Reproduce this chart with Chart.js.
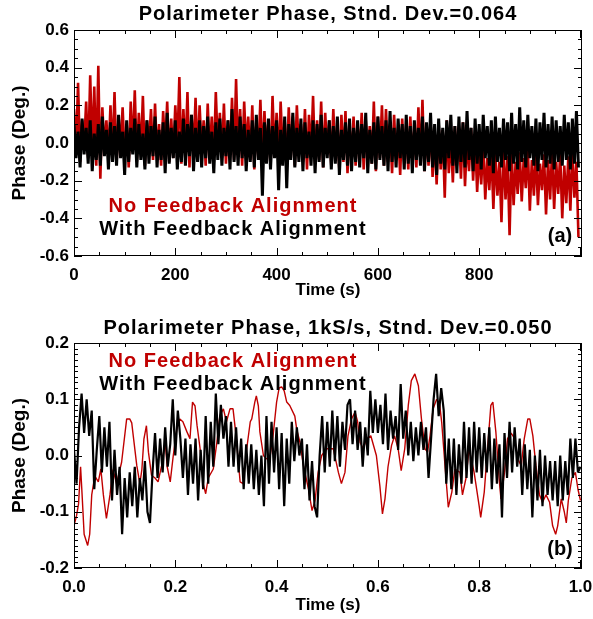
<!DOCTYPE html>
<html>
<head>
<meta charset="utf-8">
<script src="https://cdn.jsdelivr.net/npm/chart.js@4.4.1/dist/chart.umd.min.js"></script>
<style>
  body { margin: 0; background: #fff; }
  canvas { position: absolute; left: 0; }
  #chartA { top: 0; }
  #chartB { top: 310px; }
</style>
</head>
<body>
<canvas id="chartA" width="593" height="310"></canvas>
<canvas id="chartB" width="593" height="309"></canvas>
<script>
// ---- panel (a): 0-1000 s, read as alternating upper / lower excursions every 4 s
// No feedback (red): upper excursions at t = 0, 8, 16 ... 992
const redHighA = [
  0.18, 0.32, 0.12, 0.22, 0.36, 0.30, 0.41, 0.19, 0.12, 0.20,
  0.27, 0.14, 0.19, 0.10, 0.22, 0.28, 0.16, 0.25, 0.12, 0.18,
  0.21, 0.10, 0.17, 0.22, 0.13, 0.20, 0.35, 0.18, 0.27, 0.15,
  0.24, 0.20, 0.12, 0.21, 0.14, 0.27, 0.16, 0.21, 0.12, 0.24,
  0.34, 0.18, 0.22, 0.14, 0.20, 0.12, 0.23, 0.17, 0.12, 0.25,
  0.16, 0.22, 0.12, 0.19, 0.14, 0.20, 0.10, 0.18, 0.15, 0.25,
  0.12, 0.22, 0.16, 0.12, 0.18, 0.10, 0.15, 0.17, 0.08, 0.14,
  0.10, 0.16, 0.12, 0.09, 0.22, 0.14, 0.20, 0.18, 0.10, 0.15,
  0.08, 0.13, 0.10, 0.14, 0.07, 0.19, 0.23, 0.08, 0.12, 0.05,
  0.10, 0.07, 0.12, 0.04, 0.09, 0.06, 0.11, 0.03, 0.08, 0.02,
  -0.04, 0.00, -0.08, -0.03, -0.06, -0.10, -0.02, -0.07, -0.04, -0.10,
  -0.05, -0.08, -0.02, -0.09, -0.05, -0.11, -0.06, -0.09, -0.04, -0.10,
  -0.06, -0.12, -0.07, -0.05, -0.10
];
// lower excursions at t = 4, 12, 20 ... 996
const redLowA = [
  -0.05, -0.10, -0.02, -0.08, -0.06, -0.12, -0.19, -0.04, -0.09, -0.07,
  -0.11, -0.03, -0.08, -0.13, -0.05, -0.10, -0.06, -0.12, -0.02, -0.09,
  -0.07, -0.12, -0.04, -0.10, -0.08, -0.03, -0.11, -0.06, -0.13, -0.05,
  -0.09, -0.04, -0.12, -0.07, -0.10, -0.03, -0.08, -0.11, -0.05, -0.09,
  -0.06, -0.12, -0.04, -0.09, -0.14, -0.07, -0.10, -0.05, -0.13, -0.08,
  -0.11, -0.06, -0.13, -0.08, -0.12, -0.05, -0.10, -0.14, -0.07, -0.11,
  -0.09, -0.13, -0.06, -0.12, -0.08, -0.15, -0.10, -0.16, -0.07, -0.12,
  -0.09, -0.14, -0.06, -0.11, -0.15, -0.08, -0.12, -0.10, -0.16, -0.09,
  -0.17, -0.11, -0.14, -0.08, -0.13, -0.10, -0.15, -0.12, -0.18, -0.22,
  -0.14, -0.29, -0.16, -0.21, -0.12, -0.19, -0.23, -0.15, -0.20, -0.26,
  -0.22, -0.30, -0.25, -0.35, -0.28, -0.42, -0.30, -0.49, -0.33, -0.27,
  -0.31, -0.24, -0.36, -0.28, -0.33, -0.25, -0.38, -0.30, -0.35, -0.27,
  -0.40, -0.32, -0.36, -0.29, -0.50
];
// With feedback (black)
const blackHighA = [
  0.10, 0.06, 0.13, 0.08, 0.12, 0.05, 0.10, 0.14, 0.07, 0.11,
  0.09, 0.15, 0.06, 0.12, 0.08, 0.13, 0.10, 0.05, 0.12, 0.09,
  0.14, 0.07, 0.11, 0.16, 0.08, 0.12, 0.06, 0.13, 0.10, 0.15,
  0.08, 0.12, 0.09, 0.14, 0.06, 0.11, 0.13, 0.08, 0.12, 0.18,
  0.09, 0.14, 0.10, 0.07, 0.12, 0.15, 0.08, 0.11, 0.13, 0.09,
  0.12, 0.07, 0.14, 0.10, 0.16, 0.08, 0.13, 0.11, 0.06, 0.12,
  0.10, 0.15, 0.08, 0.12, 0.09, 0.14, 0.07, 0.11, 0.13, 0.08,
  0.12, 0.10, 0.16, 0.07, 0.11, 0.14, 0.09, 0.12, 0.17, 0.08,
  0.13, 0.10, 0.15, 0.09, 0.12, 0.08, 0.14, 0.11, 0.16, 0.10,
  0.13, 0.08, 0.12, 0.15, 0.09, 0.14, 0.11, 0.17, 0.08, 0.13,
  0.10, 0.15, 0.09, 0.12, 0.14, 0.08, 0.13, 0.11, 0.16, 0.10,
  0.19, 0.12, 0.15, 0.09, 0.13, 0.11, 0.16, 0.10, 0.14, 0.12,
  0.09, 0.15, 0.11, 0.13, 0.17
];
const blackLowA = [
  -0.08, -0.13, -0.06, -0.11, -0.15, -0.09, -0.12, -0.07, -0.14, -0.10,
  -0.12, -0.08, -0.17, -0.10, -0.06, -0.13, -0.09, -0.14, -0.11, -0.07,
  -0.13, -0.09, -0.16, -0.11, -0.08, -0.14, -0.10, -0.12, -0.07, -0.15,
  -0.10, -0.13, -0.08, -0.11, -0.16, -0.09, -0.12, -0.07, -0.14, -0.10,
  -0.12, -0.08, -0.15, -0.10, -0.13, -0.09, -0.28, -0.11, -0.14, -0.08,
  -0.25, -0.12, -0.24, -0.09, -0.13, -0.10, -0.15, -0.08, -0.12, -0.16,
  -0.10, -0.13, -0.08, -0.14, -0.11, -0.17, -0.09, -0.12, -0.15, -0.10,
  -0.13, -0.08, -0.16, -0.11, -0.14, -0.09, -0.12, -0.15, -0.10, -0.13,
  -0.08, -0.14, -0.11, -0.16, -0.09, -0.12, -0.15, -0.10, -0.13, -0.17,
  -0.11, -0.14, -0.08, -0.12, -0.16, -0.10, -0.13, -0.09, -0.15, -0.11,
  -0.14, -0.08, -0.12, -0.16, -0.10, -0.13, -0.09, -0.15, -0.11, -0.14,
  -0.10, -0.13, -0.08, -0.12, -0.15, -0.09, -0.13, -0.11, -0.14, -0.10,
  -0.12, -0.09, -0.14, -0.11, -0.13
];
const stepA = 4;  // seconds between samples
const xTicksA = [0, 200, 400, 600, 800];
const yTicksA = [-0.6, -0.4, -0.2, 0.0, 0.2, 0.4, 0.6];

// ---- panel (b): 0-1 s at 1kS/s
// With feedback (black), every 5 ms
const blackB = [
  0.01, -0.05, 0.05, 0.11, 0.04, 0.10, 0.035, 0.08, -0.06, 0.01,
  0.07, -0.03, 0.05, -0.02, 0.06, -0.08, 0.01, -0.07, -0.02, -0.14,
  -0.04, -0.11, -0.03, -0.09, -0.02, -0.11, -0.04, -0.08, -0.01, -0.10,
  -0.12, -0.03, 0.04, -0.04, 0.03, -0.03, 0.05, -0.02, 0.02, 0.10,
  0.00, 0.08, 0.03, -0.04, 0.03, -0.07, 0.02, -0.05, 0.03, -0.08,
  0.01, -0.06, 0.07, -0.05, 0.06, -0.02, 0.11, 0.02, 0.09, 0.03,
  0.07, -0.02, 0.06, -0.02, 0.05, -0.03, 0.03, -0.06, 0.02, -0.05,
  0.02, -0.06, 0.01, -0.07, 0.00, -0.09, 0.07, -0.05, 0.06, -0.03,
  0.05, -0.06, 0.04, -0.09, 0.03, -0.05, 0.06, -0.01, 0.05, 0.00,
  0.03, -0.06, 0.02, -0.08, -0.01, -0.09, -0.11, 0.00, 0.07, -0.03,
  0.06, -0.02, 0.08, -0.01, 0.07, -0.02, 0.06, 0.01, 0.09, 0.10,
  0.02, 0.08, 0.01, 0.06, -0.02, 0.05, 0.00, 0.115, 0.04, 0.10,
  0.04, 0.09, 0.02, 0.11, 0.01, 0.08, 0.03, 0.07, 0.01, 0.127,
  0.03, 0.08, 0.00, 0.06, -0.01, 0.05, 0.00, 0.06, 0.01, 0.05,
  -0.04, 0.03, 0.10, 0.145, 0.07, 0.12, 0.08, -0.05, 0.03, -0.06,
  0.03, -0.07, 0.02, -0.05, 0.06, -0.04, 0.05, -0.05, 0.06, -0.03,
  0.05, -0.04, 0.04, -0.03, 0.05, -0.06, 0.03, -0.05, 0.02, -0.11,
  0.04, -0.04, 0.06, -0.03, 0.05, -0.02, 0.03, -0.07, 0.02, -0.06,
  0.01, -0.11, 0.00, -0.08, 0.01, -0.09, 0.00, -0.07, -0.01, -0.08,
  -0.01, -0.09, 0.00, -0.08, -0.01, -0.07, 0.03, -0.04, 0.03, -0.03,
  -0.02
];
const stepB = 0.005;
// No feedback (red)
const redTimesB = [
  0.000, 0.005, 0.009, 0.013, 0.016, 0.020, 0.027, 0.031, 0.035, 0.041,
  0.048, 0.053, 0.058, 0.064, 0.071, 0.077, 0.084, 0.094, 0.104, 0.110,
  0.114, 0.117, 0.124, 0.130, 0.134, 0.138, 0.143, 0.147, 0.153, 0.160,
  0.166, 0.173, 0.180, 0.184, 0.190, 0.196, 0.203, 0.209, 0.215, 0.223,
  0.229, 0.234, 0.239, 0.243, 0.249, 0.255, 0.260, 0.265, 0.275, 0.282,
  0.288, 0.295, 0.301, 0.308, 0.314, 0.320, 0.328, 0.334, 0.341, 0.348,
  0.351, 0.357, 0.360, 0.364, 0.367, 0.374, 0.380, 0.387, 0.393, 0.400,
  0.405, 0.410, 0.415, 0.420, 0.426, 0.436, 0.440, 0.446, 0.453, 0.463,
  0.470, 0.476, 0.482, 0.489, 0.499, 0.512, 0.522, 0.528, 0.535, 0.541,
  0.548, 0.555, 0.560, 0.565, 0.571, 0.578, 0.586, 0.597, 0.604, 0.609,
  0.614, 0.620, 0.627, 0.633, 0.640, 0.646, 0.653, 0.660, 0.666, 0.673,
  0.680, 0.686, 0.693, 0.698, 0.703, 0.709, 0.716, 0.722, 0.726, 0.733,
  0.739, 0.746, 0.752, 0.762, 0.767, 0.774, 0.780, 0.790, 0.800, 0.803,
  0.810, 0.817, 0.823, 0.827, 0.833, 0.840, 0.843, 0.850, 0.856, 0.863,
  0.870, 0.876, 0.883, 0.889, 0.896, 0.900, 0.906, 0.912, 0.919, 0.925,
  0.932, 0.939, 0.945, 0.951, 0.955, 0.962, 0.968, 0.972, 0.976, 0.983,
  0.990, 0.995, 1.000
];
const redValuesB = [
  -0.125, -0.107, -0.086, -0.020, -0.070, -0.140, -0.160, -0.140, -0.070, -0.036,
  -0.047, -0.024, -0.070, -0.112, -0.070, -0.025, -0.050, -0.012, 0.065, 0.065,
  0.058, 0.035, -0.018, -0.050, -0.025, 0.029, 0.053, 0.006, -0.035, -0.040,
  -0.047, -0.018, 0.024, -0.020, -0.047, 0.000, 0.047, 0.065, 0.060, 0.042,
  0.030, 0.095, 0.088, 0.053, 0.012, -0.050, -0.068, -0.040, -0.024, 0.023,
  0.071, 0.083, 0.060, 0.083, 0.083, 0.035, -0.047, -0.050, 0.012, 0.060,
  0.065, 0.095, 0.106, 0.088, 0.042, 0.000, -0.006, -0.003, 0.035, 0.095,
  0.120, 0.122, 0.115, 0.095, 0.089, 0.070, 0.045, 0.024, -0.018, -0.060,
  -0.098, -0.080, -0.030, 0.000, 0.012, 0.012, -0.030, -0.050, -0.030, 0.035,
  0.065, 0.077, 0.060, 0.023, 0.012, 0.030, 0.035, 0.000, -0.055, -0.104,
  -0.077, -0.020, 0.018, 0.035, 0.012, -0.027, 0.012, 0.089, 0.133, 0.145,
  0.124, 0.065, 0.012, 0.006, 0.035, 0.083, 0.100, 0.090, 0.059, -0.024,
  -0.092, -0.065, -0.024, -0.030, -0.070, -0.040, 0.012, -0.030, -0.090, -0.110,
  -0.065, 0.018, 0.089, 0.095, 0.041, -0.048, -0.077, -0.030, 0.030, 0.040,
  0.030, -0.006, -0.018, 0.030, 0.065, 0.065, 0.035, -0.018, -0.070, -0.083,
  -0.070, -0.083, -0.125, -0.140, -0.125, -0.077, -0.100, -0.120, -0.080, -0.040,
  -0.030, -0.060, -0.080
];
const xTicksB = [0.0, 0.2, 0.4, 0.6, 0.8, 1.0];
const yTicksB = [-0.2, -0.1, 0.0, 0.1, 0.2];

const RED = '#c00000';
const FONT = "'Liberation Sans', Arial, Helvetica, sans-serif";

// interleave upper / lower excursions into one trace
function zigzag(high, low, step) {
  const pts = [];
  for (let i = 0; i < high.length; i++) {
    pts.push({ x: 2 * i * step, y: high[i] });
    if (i < low.length) pts.push({ x: (2 * i + 1) * step, y: low[i] });
  }
  return pts;
}

// IDL style box with inward ticks on all four sides, plus titles and labels
const framePlugin = {
  id: 'frame',
  afterDraw(chart, args, o) {
    const { ctx, chartArea: a, scales: { x, y } } = chart;
    ctx.save();
    ctx.strokeStyle = '#000';
    ctx.lineWidth = 1;
    ctx.strokeRect(a.left + 0.5, a.top + 0.5, a.right - a.left - 1, a.bottom - a.top - 1);

    ctx.beginPath();
    const xn = Math.round((o.xMinorEnd - x.min) / o.xMinor);
    for (let k = 0; k <= xn; k++) {
      const v = x.min + k * o.xMinor;
      const major = Math.abs(v / o.xMajor - Math.round(v / o.xMajor)) < 1e-6;
      const len = major ? 8 : 4;
      const px = Math.round(x.getPixelForValue(v)) + 0.5;
      ctx.moveTo(px, a.bottom); ctx.lineTo(px, a.bottom - len);
      ctx.moveTo(px, a.top); ctx.lineTo(px, a.top + len);
    }
    const yn = Math.round((y.max - y.min) / o.yMinor);
    for (let k = 0; k <= yn; k++) {
      const v = y.min + k * o.yMinor;
      const major = Math.abs(v / o.yMajor - Math.round(v / o.yMajor)) < 1e-6;
      const len = major ? 8 : 4;
      const py = Math.round(y.getPixelForValue(v)) + 0.5;
      ctx.moveTo(a.left, py); ctx.lineTo(a.left + len, py);
      ctx.moveTo(a.right, py); ctx.lineTo(a.right - len, py);
    }
    ctx.stroke();

    const cx = (a.left + a.right) / 2;
    ctx.fillStyle = '#000';
    ctx.textAlign = 'center';
    ctx.textBaseline = 'middle';
    ctx.letterSpacing = '1px';
    ctx.font = 'bold 20px ' + FONT;
    ctx.fillText(o.title, cx, o.titleY);

    ctx.textBaseline = 'alphabetic';
    ctx.fillStyle = RED;
    ctx.fillText('No Feedback Alignment', 233, o.legendY);
    ctx.fillStyle = '#000';
    ctx.fillText('With Feedback Alignment', 233, o.legendY + 23);

    ctx.letterSpacing = '0px';
    ctx.fillText(o.label, 560, o.labelY);

    ctx.textBaseline = 'middle';
    ctx.font = 'bold 17px ' + FONT;
    ctx.fillText('Time (s)', cx, o.xTitleY);

    ctx.translate(20, (a.top + a.bottom) / 2);
    ctx.rotate(-Math.PI / 2);
    ctx.font = 'bold 19px ' + FONT;
    ctx.fillText('Phase (Deg.)', 0, 0);
    ctx.restore();
  }
};

function makePanel(id, p) {
  return new Chart(document.getElementById(id), {
    type: 'line',
    data: {
      datasets: [
        { data: p.black, borderColor: '#000', borderWidth: p.blackWidth, borderJoinStyle: 'bevel', pointRadius: 0, tension: 0 },
        { data: p.red, borderColor: RED, borderWidth: p.redWidth, borderJoinStyle: 'bevel', pointRadius: 0, tension: 0 }
      ]
    },
    options: {
      responsive: false,
      animation: false,
      devicePixelRatio: 1,
      events: [],
      layout: { padding: { left: 0, right: 11, top: p.top, bottom: 0 } },
      plugins: { legend: { display: false }, tooltip: { enabled: false }, frame: p.frame },
      scales: {
        x: {
          type: 'linear', min: p.xMin, max: p.xMax,
          grid: { display: false, drawTicks: false }, border: { display: false },
          afterBuildTicks: s => { s.ticks = p.xTicks.map(v => ({ value: v })); },
          afterFit: s => { s.height = p.bottom; s.paddingLeft = 0; s.paddingRight = 0; },
          ticks: {
            color: '#000', padding: 9, maxRotation: 0, autoSkip: false,
            font: { family: FONT, size: 17, weight: 'bold' },
            callback: p.xFmt
          }
        },
        y: {
          min: p.yMin, max: p.yMax,
          grid: { display: false, drawTicks: false }, border: { display: false },
          afterBuildTicks: s => { s.ticks = p.yTicks.map(v => ({ value: v })); },
          afterFit: s => { s.width = 74; },
          ticks: {
            color: '#000', padding: 5, autoSkip: false,
            font: { family: FONT, size: 17, weight: 'bold' },
            callback: v => v.toFixed(1)
          }
        }
      }
    },
    plugins: [framePlugin]
  });
}

makePanel('chartA', {
  black: zigzag(blackHighA, blackLowA, stepA),
  red: zigzag(redHighA, redLowA, stepA),
  blackWidth: 3, redWidth: 2.6,
  top: 30, bottom: 54,
  xMin: 0, xMax: 1003, xTicks: xTicksA, xFmt: v => String(v),
  yMin: -0.6, yMax: 0.6, yTicks: yTicksA,
  frame: {
    title: 'Polarimeter Phase, Stnd. Dev.=0.064', titleY: 14,
    legendY: 212, label: '(a)', labelY: 242, xTitleY: 290,
    xMinor: 50, xMajor: 200, xMinorEnd: 1000, yMinor: 0.05, yMajor: 0.2
  }
});

makePanel('chartB', {
  black: blackB.map((v, i) => ({ x: i * stepB, y: v })),
  red: redTimesB.map((t, i) => ({ x: t, y: redValuesB[i] })),
  blackWidth: 2.2, redWidth: 1.4,
  top: 33, bottom: 51,
  xMin: 0, xMax: 1.003, xTicks: xTicksB, xFmt: v => v.toFixed(1),
  yMin: -0.2, yMax: 0.2, yTicks: yTicksB,
  frame: {
    title: 'Polarimeter Phase, 1kS/s, Stnd. Dev.=0.050', titleY: 18,
    legendY: 57, label: '(b)', labelY: 245, xTitleY: 295,
    xMinor: 0.05, xMajor: 0.2, xMinorEnd: 1.0, yMinor: 0.01, yMajor: 0.1
  }
});
</script>
</body>
</html>
